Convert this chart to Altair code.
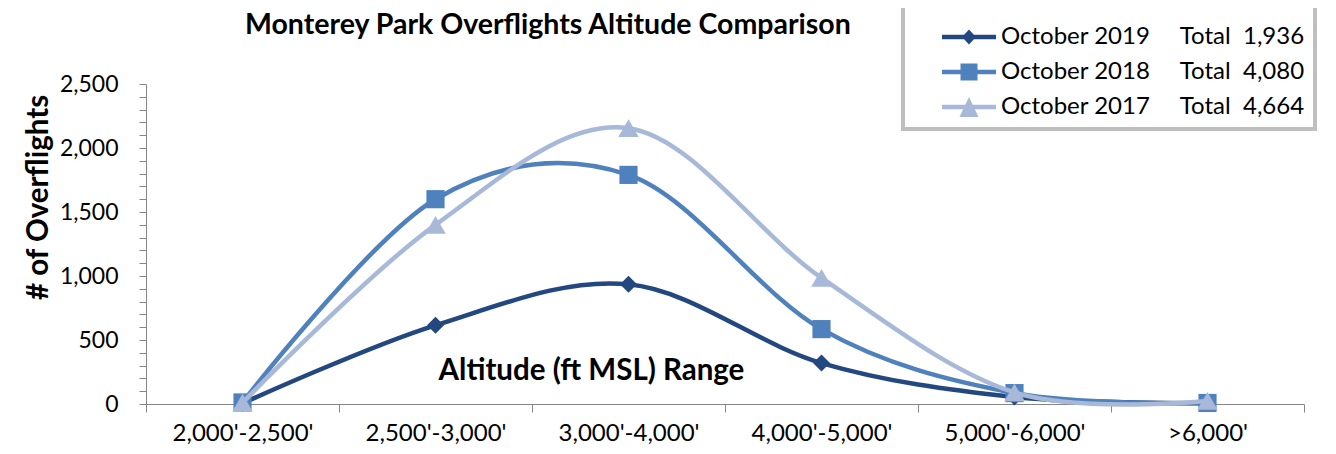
import altair as alt
import pandas as pd

categories = ["2,000'-2,500'", "2,500'-3,000'", "3,000'-4,000'", "4,000'-5,000'", "5,000'-6,000'", ">6,000'"]
series_names = ["October 2019", "October 2018", "October 2017"]
oct2019 = [5, 615, 935, 320, 55, 6]
oct2018 = [12, 1600, 1790, 585, 85, 8]
oct2017 = [10, 1400, 2155, 985, 90, 24]
totals = [1936, 4080, 4664]
colors = ["#23487F", "#4F81BD", "#A7B8D8"]
shapes = ["diamond", "square", "triangle-up"]
sizes = [290, 330, 420]

rows = []
for s, vals in zip(series_names, [oct2019, oct2018, oct2017]):
    for c, v in zip(categories, vals):
        rows.append({"range": c, "series": s, "flights": v})
df = pd.DataFrame(rows)

FONT = "Lato"
NB = "\u00a0"

def lab(name, total):
    return name + NB * 5 + "Total" + NB * 2 + f"{total:,}"

label_expr = (
    f"datum.label === '{series_names[0]}' ? '{lab(series_names[0], totals[0])}' : "
    f"datum.label === '{series_names[1]}' ? '{lab(series_names[1], totals[1])}' : "
    f"'{lab(series_names[2], totals[2])}'"
)

# legend symbols: line with marker (unit = 10px for symbolSize 400)
line_part = "M-0.9,-0.22 L4.5,-0.22 L4.5,0.22 L-0.9,0.22 Z "
sym_paths = [
    line_part + "M1.8,-0.75 L2.5,0 L1.8,0.75 L1.1,0 Z",
    line_part + "M0.95,-0.85 L2.65,-0.85 L2.65,0.85 L0.95,0.85 Z",
    line_part + "M1.8,-1.0 L2.75,1.0 L0.85,1.0 Z",
]

legend = alt.Legend(
    orient="none", legendX=757, legendY=-80, direction="vertical",
    title=NB, titleFontSize=4, titlePadding=7,
    labelExpr=label_expr, labelFont=FONT, labelFontSize=24, labelColor="black", labelLimit=500,
    symbolSize=400, symbolStrokeWidth=0, symbolOffset=26, labelOffset=38,
    symbolOpacity=1,
    rowPadding=11, padding=10,
    strokeColor="#BFBFBF", fillColor="white", cornerRadius=0,
)

x_enc = alt.X(
    "range:N", sort=categories,
    scale=alt.Scale(type="band", domain=categories, paddingInner=0, paddingOuter=0),
    axis=alt.Axis(
        title="Altitude (ft MSL) Range", titleX=445, titleY=-34, titleBaseline="middle",
        titleAlign="center", titleFontSize=29.5, titleFontWeight="bold", titleFont=FONT,
        labelAngle=0, tickBand="extent", tickSize=8, labelPadding=9,
        labelFontSize=24, labelFont=FONT, labelColor="black",
        domainColor="#868686", tickColor="#868686", grid=False,
    ),
)
y_enc = alt.Y(
    "flights:Q",
    scale=alt.Scale(domain=[0, 2500], nice=False),
    axis=alt.Axis(
        values=list(range(0, 2501, 100)),
        labelExpr="datum.value % 500 === 0 ? format(datum.value, ',') : ''",
        title="# of Overflights", titleX=-108, titleY=113, titleBaseline="middle",
        titleAlign="center", titleAngle=-90, titleFontSize=29.5, titleFontWeight="bold", titleFont=FONT,
        tickSize=7, labelPadding=21, labelFontSize=23, labelFont=FONT, labelColor="black",
        domainColor="#868686", tickColor="#868686", grid=False,
    ),
)

base = alt.Chart(df)
layers = []
for s, col, shp, sz in zip(series_names, colors, shapes, sizes):
    sub = base.transform_filter(alt.datum.series == s)
    layers.append(sub.mark_line(interpolate="cardinal", strokeWidth=4.5, strokeCap="round", color=col).encode(
        x=x_enc, y=y_enc))
    layers.append(sub.mark_point(filled=True, shape=shp, size=sz, opacity=1, strokeWidth=0, color=col).encode(
        x=x_enc, y=y_enc))

# layer with no visible marks that only carries the legend (line + marker symbols)
legend_layer = base.transform_filter("datum.flights < 0").mark_point(filled=True).encode(
    x=x_enc, y=y_enc,
    fill=alt.Fill("series:N", scale=alt.Scale(domain=series_names, range=colors), legend=legend),
    shape=alt.Shape("series:N", scale=alt.Scale(domain=series_names, range=sym_paths), legend=legend),
)
layers.append(legend_layer)

chart = alt.layer(*layers).properties(
    width=1158, height=320,
    padding={"left": 138, "top": 76, "right": 24, "bottom": 42},
    autosize=alt.AutoSizeParams(type="none"),
    title=alt.TitleParams(
        "Monterey Park Overflights Altitude Comparison", anchor="start", frame="group",
        dx=99, dy=41, font=FONT, fontSize=28.5, fontWeight="bold", color="black",
    ),
).configure_view(stroke=None).configure_legend(strokeWidth=4)

chart.save("out.html", embed_options={"renderer": "svg", "actions": False})
